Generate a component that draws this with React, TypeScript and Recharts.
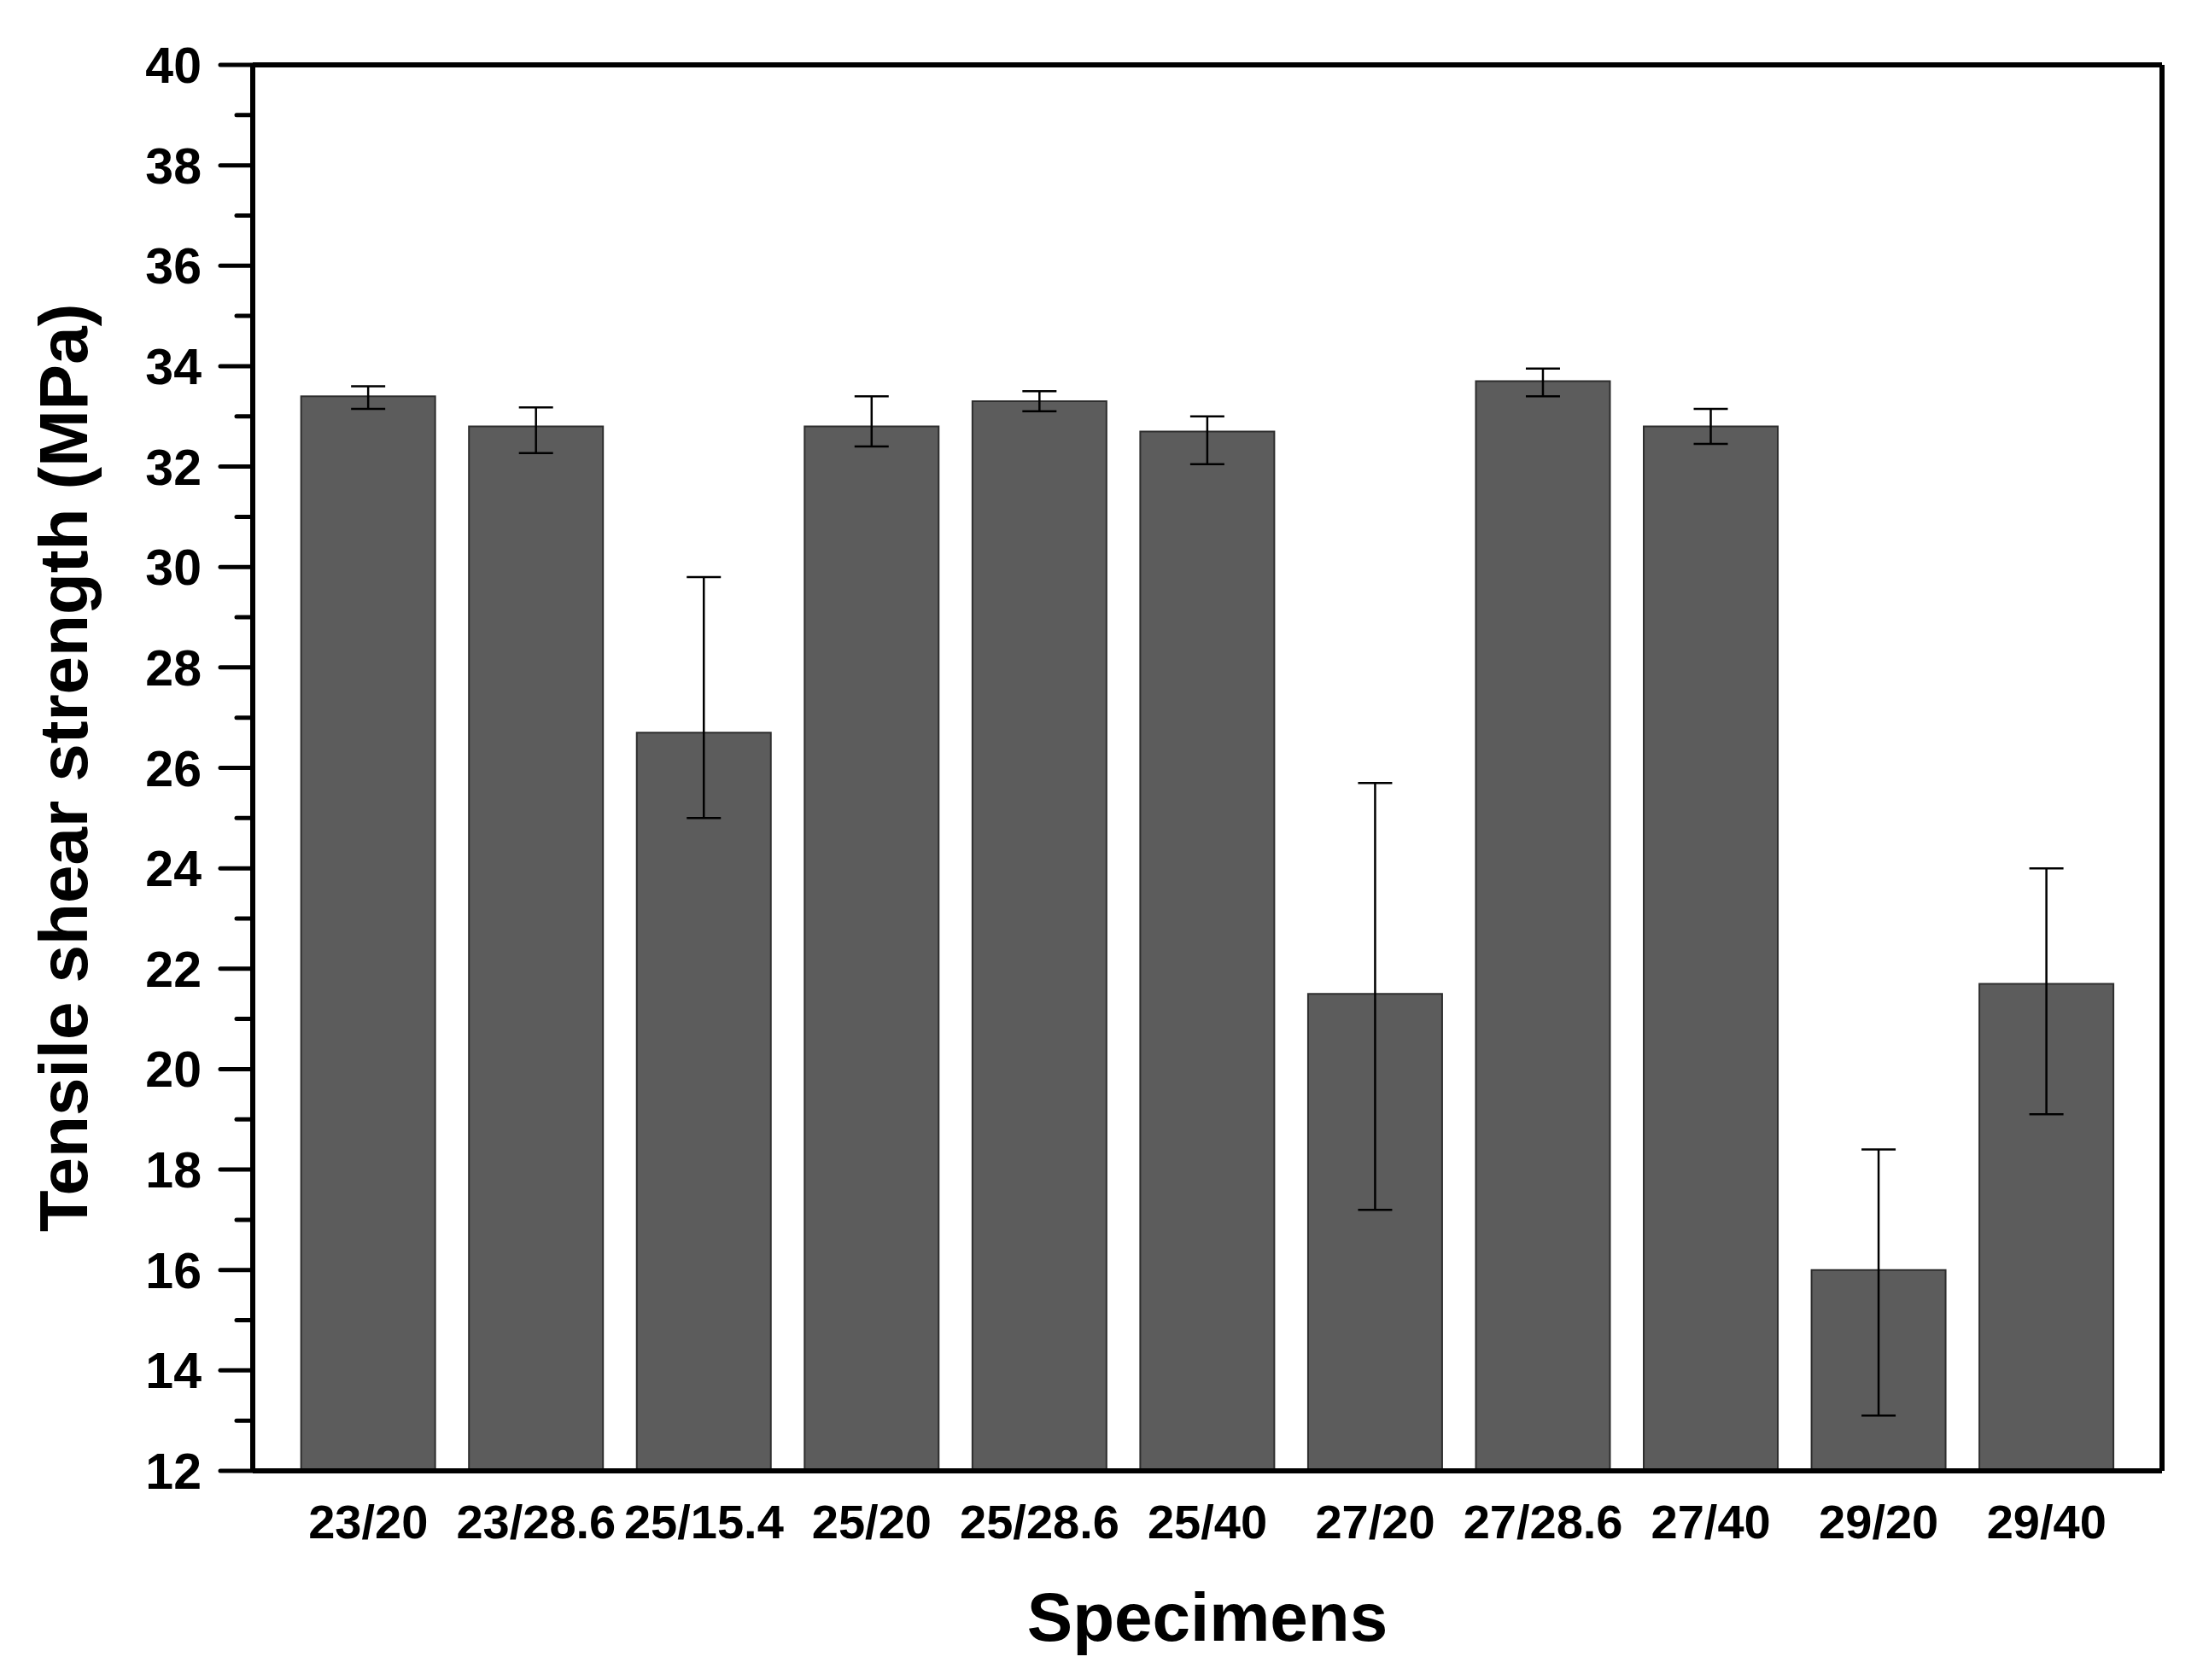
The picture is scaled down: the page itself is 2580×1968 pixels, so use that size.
import React from 'react';
import { BarChart, Bar, XAxis, YAxis, ErrorBar } from 'recharts';

// values
const specimens = ['23/20', '23/28.6', '25/15.4', '25/20', '25/28.6', '25/40', '27/20', '27/28.6', '27/40', '29/20', '29/40'];
const strength = [33.4, 32.8, 26.7, 32.8, 33.3, 32.7, 21.5, 33.7, 32.8, 16.0, 21.7];
const errLow = [0.25, 0.53, 1.7, 0.4, 0.2, 0.65, 4.3, 0.3, 0.35, 2.9, 2.6];
const errHigh = [0.2, 0.38, 3.1, 0.6, 0.2, 0.3, 4.2, 0.25, 0.35, 2.4, 2.3];
const yTicks = [12, 13, 14, 15, 16, 17, 18, 19, 20, 21, 22, 23, 24, 25, 26, 27, 28, 29, 30, 31, 32, 33, 34, 35, 36, 37, 38, 39, 40];

const data = specimens.map((name, i) => ({
  name,
  value: strength[i],
  err: [errLow[i], errHigh[i]],
}));

const FONT = '"Liberation Sans", Arial, sans-serif';

const YTick = (props: any) => {
  const { x, y, payload } = props;
  const major = payload.value % 2 === 0;
  return (
    <g>
      <line x1={x - (major ? 38 : 19)} y1={y} x2={x} y2={y} stroke="#000" strokeWidth={5} strokeLinecap="round" />
      {major && (
        <text x={x - 60} y={y} dy={21} textAnchor="end" fontFamily={FONT} fontWeight="bold" fontSize={59} fill="#000">
          {payload.value}
        </text>
      )}
    </g>
  );
};

const XTick = (props: any) => {
  const { x, y, payload } = props;
  return (
    <text x={x} y={y + 79} textAnchor="middle" fontFamily={FONT} fontWeight="bold" fontSize={56} fill="#000">
      {payload.value}
    </text>
  );
};

export default function App() {
  return (
    <div style={{ position: 'absolute', left: 0, top: 0, width: 2580, height: 1968, background: '#fff' }}>
      <BarChart
        width={2580}
        height={1968}
        data={data}
        margin={{ top: 74, right: 46, left: 0, bottom: 0 }}
        barCategoryGap="10%"
      >
        <XAxis
          dataKey="name"
          height={245}
          padding={{ left: 37, right: 37 }}
          tickLine={false}
          tickSize={0}
          tickMargin={0}
          interval={0}
          axisLine={{ stroke: '#000', strokeWidth: 6 }}
          tick={<XTick />}
          label={{ value: 'Specimens', position: 'insideBottom', offset: 46, fontFamily: FONT, fontWeight: 'bold', fontSize: 80, fill: '#000' }}
        />
        <XAxis xAxisId="top" dataKey="name" orientation="top" height={2} tick={false} tickLine={false} axisLine={{ stroke: '#000', strokeWidth: 6 }} />
        <YAxis
          domain={[12, 40]}
          ticks={yTicks}
          interval={0}
          width={296}
          tickLine={false}
          tickSize={0}
          tickMargin={0}
          allowDataOverflow
          axisLine={{ stroke: '#000', strokeWidth: 6 }}
          tick={<YTick />}
          label={{ value: 'Tensile shear strength (MPa)', angle: -90, position: 'insideLeft', offset: 74, style: { textAnchor: 'middle' }, fontFamily: FONT, fontWeight: 'bold', fontSize: 80, fill: '#000' }}
        />
        <YAxis yAxisId="right" orientation="right" domain={[12, 40]} width={2} tick={false} tickLine={false} axisLine={{ stroke: '#000', strokeWidth: 6 }} />
        <Bar dataKey="value" fill="#5c5c5c" stroke="#2e2e2e" strokeWidth={2} isAnimationActive={false}>
          <ErrorBar dataKey="err" direction="y" width={20} stroke="#000" strokeWidth={2.5} />
        </Bar>
      </BarChart>
    </div>
  );
}
